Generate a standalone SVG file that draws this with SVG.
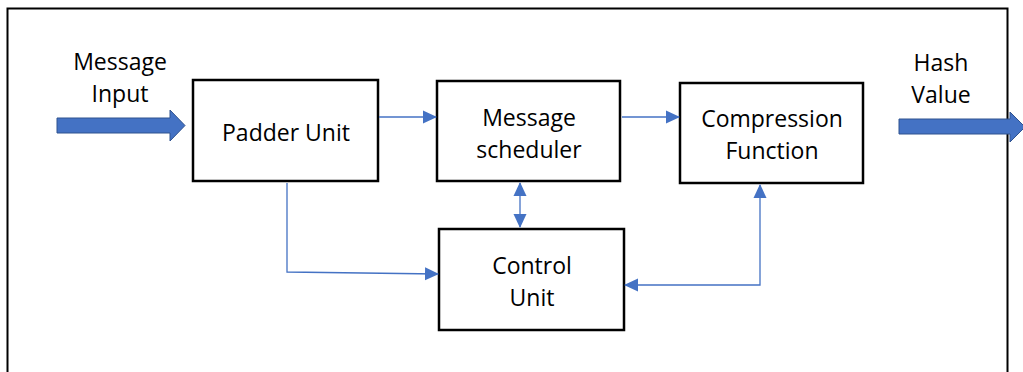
<svg xmlns="http://www.w3.org/2000/svg" width="1023" height="372" viewBox="0 0 1023 372">
<defs>
<marker id="ah" markerWidth="14" markerHeight="14" refX="13" refY="7" orient="auto-start-reverse" markerUnits="userSpaceOnUse">
<path d="M0,0.5 L14,7 L0,13.5 Z" fill="#4472C4"/>
</marker>
<style>
.box{fill:#fff;stroke:#000;stroke-width:2.5}
.t{font-family:"Open Sans","Liberation Sans",sans-serif;font-size:23px;fill:#000;text-anchor:middle}
.c{fill:none;stroke:#4472C4;stroke-width:1.3}
.big{fill:#4472C4;stroke:#2F528F;stroke-width:1}
</style>
</defs>
<rect x="0" y="0" width="1023" height="372" fill="#fff"/>
<rect x="7.5" y="8.5" width="1000" height="380" fill="none" stroke="#000" stroke-width="2"/>
<g id="input">
<path class="big" d="M57,118 L170,118 L170,110 L185,125.5 L170,141 L170,133 L57,133 Z"/>
<text class="t" x="120" y="70">Message</text>
<text class="t" x="120" y="102">Input</text>
</g>
<g id="output">
<path class="big" d="M899,119 L1010,119 L1010,112 L1025,127 L1010,142 L1010,134 L899,134 Z"/>
<text class="t" x="941" y="71">Hash</text>
<text class="t" x="941" y="103">Value</text>
</g>
<g id="padder">
<rect class="box" x="193" y="80" width="185" height="101"/>
<text class="t" x="286" y="141">Padder Unit</text>
</g>
<g id="scheduler">
<rect class="box" x="437" y="81" width="183" height="100"/>
<text class="t" x="529" y="126">Message</text>
<text class="t" x="529" y="158">scheduler</text>
</g>
<g id="compression">
<rect class="box" x="680" y="83" width="183" height="100"/>
<text class="t" x="772" y="127">Compression</text>
<text class="t" x="772" y="159">Function</text>
</g>
<g id="control">
<rect class="box" x="439" y="229" width="185" height="101"/>
<text class="t" x="532" y="274">Control</text>
<text class="t" x="532" y="306">Unit</text>
</g>
<g id="connectors">
<path class="c" d="M379,117 L436,117" marker-end="url(#ah)"/>
<path class="c" d="M622,117 L679,117" marker-end="url(#ah)"/>
<path class="c" d="M287,183 L287,272 L438,274" marker-end="url(#ah)"/>
<path class="c" d="M520,183 L520,227" marker-start="url(#ah)" marker-end="url(#ah)"/>
<path class="c" d="M760,185 L760,285 L625,285" marker-start="url(#ah)" marker-end="url(#ah)"/>
</g>
</svg>
